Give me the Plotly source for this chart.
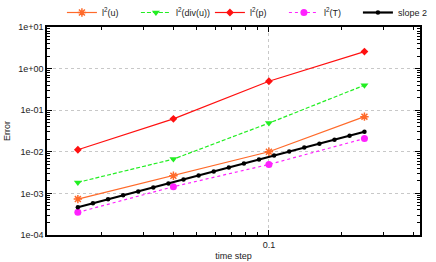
import plotly.graph_objects as go

# data
dt = [0.016, 0.04, 0.1, 0.25]
err_u = [7.3e-4, 2.66e-3, 1.0e-2, 7.0e-2]
err_divu = [1.84e-3, 6.67e-3, 4.89e-2, 0.398]
err_p = [1.12e-2, 6.19e-2, 0.497, 2.56]
err_T = [3.5e-4, 1.45e-3, 4.96e-3, 2.08e-2]

slope_x = [0.016, 0.01849, 0.02137, 0.0247, 0.02855, 0.033, 0.03814, 0.04408,
           0.05095, 0.05889, 0.06806, 0.07867, 0.09093, 0.10509, 0.12147,
           0.14039, 0.16226, 0.18754, 0.21676, 0.25]
slope_y = [4.63e-4, 5.78e-4, 7.2e-4, 8.97e-4, 1.118e-3, 1.394e-3, 1.737e-3,
           2.165e-3, 2.698e-3, 3.363e-3, 4.19e-3, 5.22e-3, 6.51e-3, 8.11e-3,
           1.011e-2, 1.26e-2, 1.571e-2, 1.957e-2, 2.44e-2, 3.04e-2]

ytick_vals = [1e-4, 1e-3, 1e-2, 1e-1, 1e0, 1e1]
ytick_text = ["1e-04", "1e-03", "1e-02", "1e-01", "1e+00", "1e+01"]
xtick_vals = [0.1]
xtick_text = ["0.1"]

FONT = "Liberation Sans, Arial, sans-serif"

fig = go.Figure()
fig.add_trace(go.Scatter(x=dt, y=err_u, name="l<sup>2</sup>(u)", mode="lines+markers",
                         line=dict(color="#ff6a2a", width=1.2),
                         marker=dict(symbol="asterisk-open", size=7, line=dict(color="#ff6a2a", width=1.5))))
fig.add_trace(go.Scatter(x=dt, y=err_divu, name="l<sup>2</sup>(div(u))", mode="lines+markers",
                         line=dict(color="#22ee22", width=1.2, dash="4px,2px"),
                         marker=dict(symbol="triangle-down", size=7, color="#22ee22")))
fig.add_trace(go.Scatter(x=dt, y=err_p, name="l<sup>2</sup>(p)", mode="lines+markers",
                         line=dict(color="#ff1010", width=1.2),
                         marker=dict(symbol="diamond", size=6, color="#ff1010")))
fig.add_trace(go.Scatter(x=dt, y=err_T, name="l<sup>2</sup>(T)", mode="lines+markers",
                         line=dict(color="#ff22ff", width=1.2, dash="dot"),
                         marker=dict(symbol="circle", size=7, color="#ff22ff")))
fig.add_trace(go.Scatter(x=slope_x, y=slope_y, name="slope 2", mode="lines+markers",
                         line=dict(color="black", width=2.2),
                         marker=dict(symbol="circle", size=4.5, color="black")))

fig.update_layout(
    width=436, height=262,
    margin=dict(l=47, r=16, t=27, b=27, autoexpand=False),
    paper_bgcolor="white", plot_bgcolor="white",
    font=dict(family=FONT, size=9, color="#222"),
    showlegend=True,
    legend=dict(orientation="h", x=0.04, y=1.0, xanchor="left", yanchor="bottom",
                font=dict(size=9), itemwidth=30, entrywidth=29, bgcolor="rgba(0,0,0,0)",
                tracegroupgap=0),
)
fig.update_xaxes(
    type="log", range=[-1.9245, -0.3706],
    tickmode="array", tickvals=xtick_vals, ticktext=xtick_text,
    ticks="inside", ticklen=5, tickcolor="black",
    showline=True, linecolor="black", linewidth=1.5, mirror="ticks",
    showgrid=True, gridcolor="#c8c8c8", griddash="dot", gridwidth=1,
    zeroline=False,
    minor=dict(tickmode="array",
               tickvals=[0.02, 0.03, 0.04, 0.05, 0.06, 0.07, 0.08, 0.09, 0.2, 0.3, 0.4],
               ticks="inside", ticklen=3, tickcolor="black", showgrid=False),
    title=dict(text="time step", font=dict(size=9), standoff=4),
    tickfont=dict(size=9),
)
y_minor = [m * 10 ** e for e in range(-4, 1) for m in range(2, 10)]
fig.update_yaxes(
    type="log", range=[-4, 1],
    tickmode="array", tickvals=ytick_vals, ticktext=ytick_text,
    ticks="inside", ticklen=5, tickcolor="black",
    showline=True, linecolor="black", linewidth=1.5, mirror="ticks",
    showgrid=True, gridcolor="#c8c8c8", griddash="dot", gridwidth=1,
    zeroline=False,
    minor=dict(tickmode="array", tickvals=y_minor,
               ticks="inside", ticklen=3, tickcolor="black", showgrid=False),
    title=dict(text="Error", font=dict(size=9), standoff=6),
    tickfont=dict(size=9),
)

fig.write_html("out.html", config={"displayModeBar": False},
               post_script="document.body.style.margin='0';")
